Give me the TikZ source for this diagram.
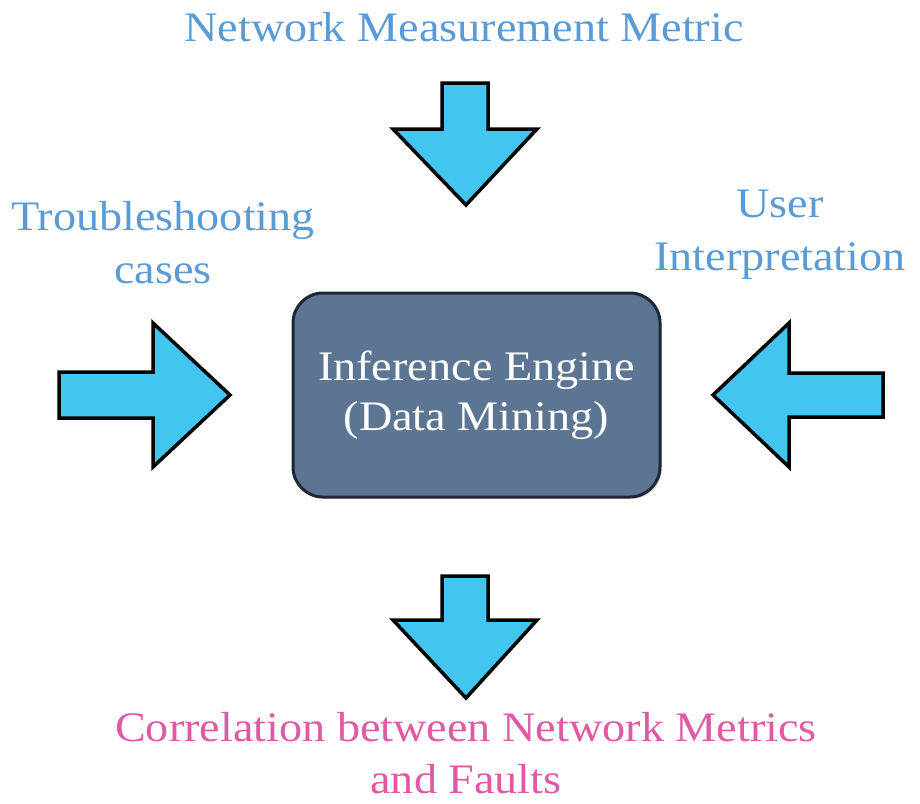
\documentclass[tikz,border=0pt]{standalone}
\usepackage{fontspec}
\setmainfont[FakeStretch=1.1]{Liberation Serif}
\usetikzlibrary{shadows}
\definecolor{labelblue}{HTML}{5B9BD5}
\definecolor{labelpink}{HTML}{DE5AA4}
\definecolor{arrowcyan}{HTML}{42C5EF}
\definecolor{enginefill}{HTML}{5B7593}
\definecolor{engineline}{HTML}{1E2733}
\tikzset{
  labeltext/.style={font=\fontsize{42}{53}\selectfont, align=center, inner sep=0pt},
  blockarrow/.style={fill=arrowcyan, draw=black, line width=3.5pt, line join=miter, miter limit=10},
  enginebox/.style={fill=enginefill, draw=engineline, line width=3pt, rounded corners=30pt,
    minimum width=367pt, minimum height=204pt, text=white, align=center,
    font=\fontsize{42}{50}\selectfont,
    drop shadow={opacity=0.25, shadow xshift=2pt, shadow yshift=-2pt}},
}
\begin{document}
\begin{tikzpicture}[x=1pt, y=-1pt]
  \useasboundingbox (0,0) rectangle (920,803);

  % central engine
  \node[enginebox] (engine) at (476.5,395) {Inference Engine\\(Data Mining)};

  % input and output block arrows
  \draw[blockarrow] (442,83) -- (488,83) -- (488,129) -- (537,129) -- (466,205)
    -- (393,129) -- (442,129) -- cycle;
  \draw[blockarrow] (442,576) -- (488,576) -- (488,620) -- (537,620) -- (466,698)
    -- (393,620) -- (442,620) -- cycle;
  \draw[blockarrow] (59,372) -- (153,372) -- (153,323) -- (230,395) -- (153,467)
    -- (153,418) -- (59,418) -- cycle;
  \draw[blockarrow] (883,373) -- (789,373) -- (789,323) -- (713,395) -- (789,467)
    -- (789,417) -- (883,417) -- cycle;

  % labels (base anchor sits on the last line of a multi-line label)
  \node[labeltext, text=labelblue, anchor=base] (metric) at (464,41) {Network Measurement Metric};
  \node[labeltext, text=labelblue, anchor=base] (cases) at (163,283) {Troubleshooting\\cases};
  \node[labeltext, text=labelblue, anchor=base] (user) at (780,270) {User\\Interpretation};
  \node[labeltext, text=labelpink, anchor=base, font=\fontsize{42}{52}\selectfont] (faults) at (466,793) {Correlation between Network Metrics\\and Faults};
\end{tikzpicture}
\end{document}
